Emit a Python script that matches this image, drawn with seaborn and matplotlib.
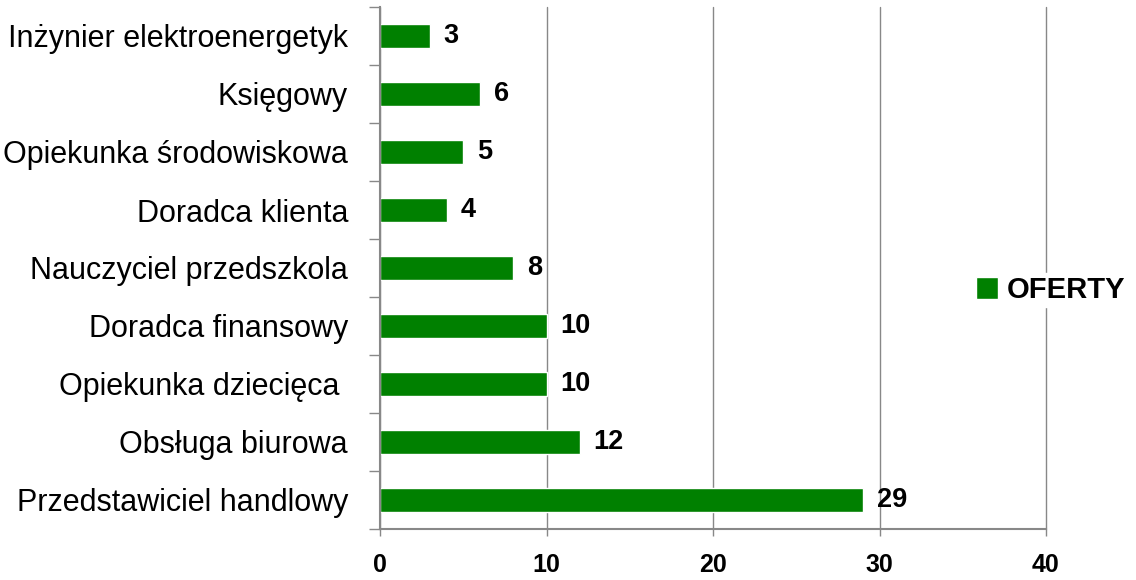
import matplotlib
matplotlib.use("Agg")
import matplotlib.pyplot as plt
import seaborn as sns
import pandas as pd
import numpy as np

categories = ["Inżynier elektroenergetyk", "Księgowy", "Opiekunka środowiskowa",
              "Doradca klienta", "Nauczyciel przedszkola", "Doradca finansowy",
              "Opiekunka dziecięca ", "Obsługa biurowa", "Przedstawiciel handlowy"]
values = [3, 6, 5, 4, 8, 10, 10, 12, 29]
series_name = "OFERTY"
xticks = [0, 10, 20, 30, 40]

sns.set_theme(style="white")
plt.rcParams['font.family'] = ['Liberation Sans', 'DejaVu Sans']
plt.rcParams['text.color'] = 'black'
plt.rcParams['xtick.color'] = 'black'
plt.rcParams['ytick.color'] = 'black'

df = pd.DataFrame({"cat": categories, "val": values, "series": series_name})

fig = plt.figure(figsize=(11.36, 5.8), dpi=100)
ax = fig.add_axes([380/1136, 1-529/580, (1046-380)/1136, (529-7)/580])
sns.barplot(data=df, x="val", y="cat", hue="series", palette=["#008000"],
            orient="h", width=0.4, ax=ax, saturation=1, legend=True)

ax.set_xlim(0, 40)
ax.set_ylim(len(categories)-0.5, -0.5)
ax.set_xticks(xticks)
ax.set_xticklabels([str(t) for t in xticks], fontweight="bold", fontsize=18, color="black")
ax.set_xlabel("")
ax.set_ylabel("")
ax.set_yticks(range(len(categories)))
ax.set_yticklabels(categories, fontsize=22, color="black")
ax.set_yticks(np.arange(-0.5, len(categories), 1), minor=True)
ax.tick_params(axis="y", which="major", length=0, pad=23)
ax.tick_params(axis="y", which="minor", left=True, length=8, width=1, color="#888888")
ax.tick_params(axis="x", which="major", bottom=True, length=5, width=1, color="#888888", pad=12)

ax.grid(axis="x", color="#888888", linewidth=1)
for gl in ax.get_xgridlines():
    gl.set_clip_on(False)
ax.set_axisbelow(True)
for s in ["top", "right"]:
    ax.spines[s].set_visible(False)
for s in ["left", "bottom"]:
    ax.spines[s].set_color("#888888")
    ax.spines[s].set_linewidth(1.5)

for cont in ax.containers:
    ax.bar_label(cont, labels=[str(v) for v in values], padding=10,
                 fontweight="bold", fontsize=19.5, color="black")

leg = ax.legend(loc="center left", bbox_to_anchor=(973/1136, 290/580),
                bbox_transform=fig.transFigure, frameon=True, framealpha=1,
                edgecolor="white", handlelength=0.75, handleheight=0.75,
                handletextpad=0.3, borderpad=0.1, borderaxespad=0,
                prop={"weight": "bold", "size": 21})

fig.savefig("out.png", dpi=100)
